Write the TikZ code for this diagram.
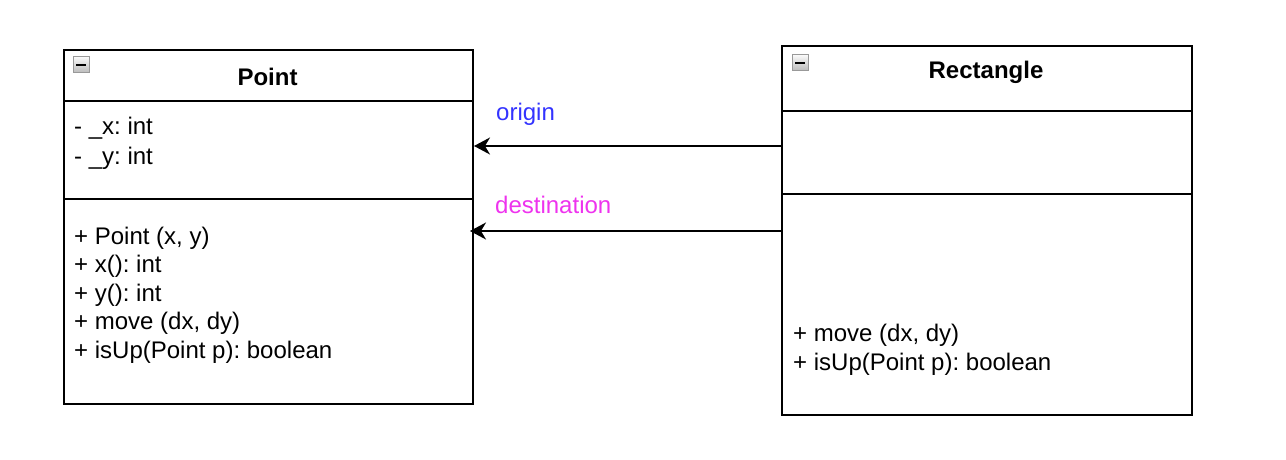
\documentclass[tikz,border=0pt]{standalone}
\usepackage{fontspec}
\setmainfont{Liberation Sans}
\usepackage{xcolor}
\usetikzlibrary{arrows.meta}
\definecolor{originblue}{RGB}{51,51,255}
\definecolor{destpink}{RGB}{238,51,238}
\frenchspacing

\begin{document}
\begin{tikzpicture}[x=1pt,y=-1pt,
  umlbox/.style={draw, line width=1.6pt, anchor=north west, inner sep=0pt},
  sep/.style={line width=1.6pt},
  classname/.style={anchor=base, inner sep=0pt, font=\fontsize{24}{28}\selectfont\bfseries},
  member/.style={anchor=base west, inner sep=0pt, font=\fontsize{24}{28}\selectfont},
  rolelabel/.style={anchor=base west, inner sep=0pt, font=\fontsize{24}{28}\selectfont},
  assoc/.style={line width=1.5pt, -{Stealth[length=16pt, width=17pt, inset=5pt]}},
  fold/.style={draw=gray!80, line width=1pt, top color=gray!5, bottom color=gray!55}]
\useasboundingbox (0,0) rectangle (1286,460);

% class Point
\node[umlbox, minimum width=409pt, minimum height=354pt] (point) at (63,49) {};
\draw[sep] (63,101) -- (472,101);
\draw[sep] (63,199) -- (472,199);
\shade[fold] (73,57) rectangle (89,73);
\draw[line width=2pt] (76,65) -- (86,65);
\node[classname] (pointname) at (267.5,85) {Point};
\node[member] (px) at (74,135) {- \_x: int};
\node[member] (py) at (74,164) {- \_y: int};
\node[member] (pm1) at (74,244) {+ Point (x, y)};
\node[member] (pm2) at (74,272.5) {+ x(): int};
\node[member] (pm3) at (74,301) {+ y(): int};
\node[member] (pm4) at (74,329.5) {+ move (dx, dy)};
\node[member] (pm5) at (74,358) {+ isUp(Point p): boolean};

% class Rectangle
\node[umlbox, minimum width=410pt, minimum height=369pt] (rect) at (781,45) {};
\draw[sep] (781,111) -- (1191,111);
\draw[sep] (781,194) -- (1191,194);
\shade[fold] (792,55) rectangle (808,71);
\draw[line width=2pt] (795,63) -- (805,63);
\node[classname] (rectname) at (986,79) {Rectangle};
\node[member] (rm1) at (793,341) {+ move (dx, dy)};
\node[member] (rm2) at (793,370) {+ isUp(Point p): boolean};

% associations
\coordinate (originend) at (474,146);
\coordinate (destend) at (470,231);
\draw[assoc] (rect.west |- originend) -- (originend);
\draw[assoc] (rect.west |- destend) -- (destend);
\node[rolelabel, text=originblue] (origin) at (496,121) {origin};
\node[rolelabel, text=destpink] (destination) at (495,213) {destination};

\end{tikzpicture}
\end{document}
